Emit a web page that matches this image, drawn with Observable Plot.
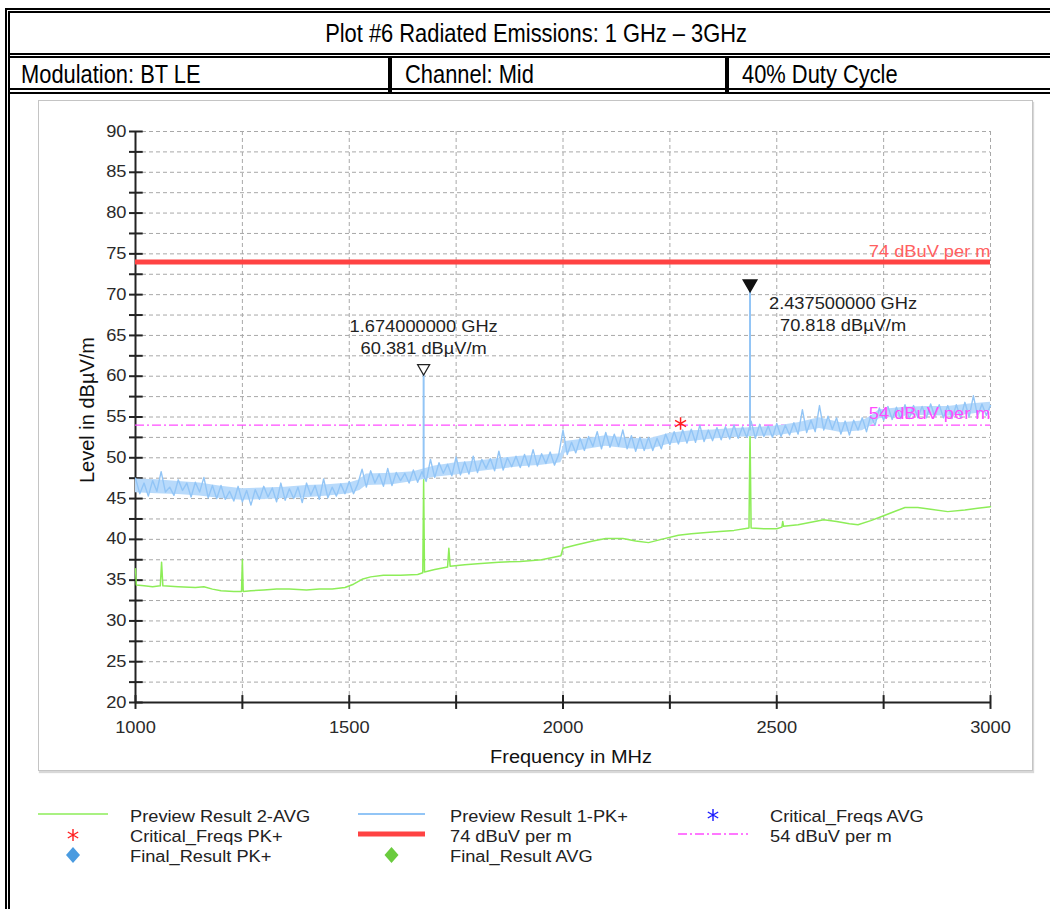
<!DOCTYPE html>
<html>
<head>
<meta charset="utf-8">
<script src="https://cdn.jsdelivr.net/npm/d3@7"></script>
<script src="https://cdn.jsdelivr.net/npm/@observablehq/plot@0.6"></script>
<style>
  html, body { margin: 0; padding: 0; background: #fff; }
  body { width: 1050px; height: 909px; position: relative; overflow: hidden; font-family: "Liberation Sans", Arial, sans-serif; }
  .b { position: absolute; background: #000; }
  .hdr { position: absolute; font-family: "Liberation Sans", Arial, sans-serif; font-size: 25px; line-height: 25px; color: #000; white-space: nowrap; }
  .hdr span { display: inline-block; transform: scaleX(0.875); }
  #panel { position: absolute; left: 38px; top: 100px; width: 993px; height: 669px; border: 1px solid #c4c4c4; box-shadow: 1px 2px 1px #d8d8d8; background: #fff; }
  #chart { position: absolute; left: 38px; top: 100px; }
  .lg { position: absolute; font-size: 16px; line-height: 16px; color: #222; white-space: nowrap; transform: scaleX(1.14); transform-origin: 0 50%; }
  .sw { position: absolute; }
</style>
</head>
<body>
<!-- table borders -->
<div class="b" style="left:5px;top:8px;width:1045px;height:2px"></div>
<div class="b" style="left:8px;top:11px;width:1042px;height:2px"></div>
<div class="b" style="left:5px;top:8px;width:2px;height:901px"></div>
<div class="b" style="left:8px;top:11px;width:2px;height:898px"></div>
<div class="b" style="left:8px;top:53px;width:1042px;height:2px"></div>
<div class="b" style="left:8px;top:56px;width:1042px;height:2px"></div>
<div class="b" style="left:8px;top:88px;width:1042px;height:2px"></div>
<div class="b" style="left:8px;top:92px;width:1042px;height:2px"></div>
<div class="b" style="left:388px;top:56px;width:4px;height:36px"></div>
<div class="b" style="left:725px;top:56px;width:4px;height:36px"></div>

<div class="hdr" style="left:0;width:1072px;top:21px;text-align:center"><span id="title" style="transform-origin:50% 50%"></span></div>
<div class="hdr" style="left:21px;top:62px"><span id="h1" style="transform-origin:0 50%"></span></div>
<div class="hdr" style="left:405px;top:62px"><span id="h2" style="transform-origin:0 50%"></span></div>
<div class="hdr" style="left:742px;top:62px"><span id="h3" style="transform-origin:0 50%"></span></div>

<div id="panel"></div>
<div id="chart"></div>
<div id="legend"></div>

<script>
// ---------- header texts ----------
const titleText = "Plot #6 Radiated Emissions: 1 GHz \u2013 3GHz";
const headerCells = ["Modulation: BT LE", "Channel: Mid", "40% Duty Cycle"];

// ---------- axes ----------
const xDomain = [1000, 3000];
const yDomain = [20, 90];
const xLabelTicks = [1000, 1500, 2000, 2500, 3000];
const xMinorTicks = [1000, 1250, 1500, 1750, 2000, 2250, 2500, 2750, 3000];
const yLabelTicks = [20, 25, 30, 35, 40, 45, 50, 55, 60, 65, 70, 75, 80, 85, 90];
const yMinorTicks = [20, 22.5, 25, 27.5, 30, 32.5, 35, 37.5, 40, 42.5, 45, 47.5, 50, 52.5, 55, 57.5, 60, 62.5, 65, 67.5, 70, 72.5, 75, 77.5, 80, 82.5, 85, 87.5, 90];
const xGrid = [1250, 1500, 1750, 2000, 2250, 2500, 2750, 3000];
const yGrid = [22.5, 25, 27.5, 30, 32.5, 35, 37.5, 40, 42.5, 45, 47.5, 50, 52.5, 55, 57.5, 60, 62.5, 65, 67.5, 70, 72.5, 75, 77.5, 80, 82.5, 85, 87.5, 90];

// ---------- Preview Result 1-PK+ (10 MHz steps, 1000..3000 MHz) ----------
const pkLevel = [
  47.5, 45.6, 46.9, 45.3, 47.2, 45.9, 48.3, 45.8, 46.4, 45.4,
  47.3, 46.0, 46.9, 45.2, 47.0, 45.8, 47.6, 45.1, 46.6, 45.0,
  46.6, 44.9, 45.9, 44.7, 46.5, 44.6, 46.0, 44.2, 46.1, 44.9,
  46.5, 45.2, 46.3, 44.6, 46.9, 44.8, 46.2, 45.0, 46.4, 44.5,
  46.9, 45.4, 46.6, 44.9, 47.4, 45.1, 46.4, 45.3, 46.8, 45.6,
  47.1, 45.6, 46.8, 48.6, 46.4, 48.4, 46.9, 48.0, 46.5, 48.7,
  46.6, 48.2, 47.2, 48.1, 46.9, 48.5, 47.0, 48.3, 47.1, 49.8,
  47.6, 49.4, 48.1, 49.2, 47.8, 50.1, 47.9, 49.5, 48.0, 50.2,
  48.2, 49.8, 48.7, 49.9, 48.4, 50.8, 48.5, 50.0, 48.9, 50.2,
  48.8, 50.4, 48.9, 51.0, 49.0, 50.5, 49.3, 50.7, 49.1, 50.4,
  53.4, 50.4, 51.9, 50.6, 52.4, 50.9, 52.6, 51.4, 53.2, 51.1,
  53.1, 51.3, 52.9, 51.4, 53.4, 51.1, 52.7, 50.8, 52.5, 50.9,
  52.5, 50.9, 52.4, 51.1, 52.9, 51.6, 53.2, 51.7, 53.4, 51.8,
  53.5, 51.9, 54.0, 52.0, 53.4, 52.1, 53.7, 52.2, 53.8, 52.3,
  54.0, 52.4, 53.8, 52.5, 54.5, 52.4, 54.1, 52.6, 53.9, 52.5,
  54.2, 52.6, 54.0, 52.8, 54.3, 52.9, 55.9, 53.1, 54.6, 53.2,
  56.4, 53.4, 55.1, 53.5, 54.9, 52.9, 54.5, 52.8, 54.6, 53.4,
  54.9, 53.2, 55.2, 54.0, 56.1, 54.6, 56.3, 54.7, 56.2, 54.8,
  56.5, 54.8, 56.4, 54.9, 56.3, 54.9, 56.6, 55.0, 56.5, 54.9,
  56.4, 54.8, 56.5, 54.9, 56.8, 55.0, 57.6, 55.1, 56.6, 55.2,
  56.4
];
const pkFreq = d3.range(1000, 3001, 10);

// core of the PK+ noise band
const bandFreq = [1000, 1050, 1100, 1150, 1200, 1250, 1300, 1350, 1400, 1450, 1500, 1525, 1540, 1600, 1650, 1700, 1750, 1800, 1850, 1900, 1950, 1995, 2005, 2050, 2100, 2150, 2200, 2250, 2300, 2350, 2400, 2450, 2500, 2550, 2600, 2650, 2700, 2720, 2740, 2800, 2850, 2900, 2950, 3000];
const bandLow  = [45.7, 45.6, 45.5, 45.3, 45.0, 44.8, 44.9, 45.0, 45.1, 45.3, 45.6, 46.0, 46.6, 46.7, 47.1, 47.6, 47.9, 48.3, 48.6, 48.9, 49.1, 49.4, 50.6, 51.0, 51.4, 51.1, 51.0, 51.7, 52.0, 52.3, 52.5, 52.6, 52.7, 53.1, 53.6, 53.1, 53.3, 53.9, 54.8, 55.1, 55.2, 55.1, 55.3, 55.7];
const bandHigh = [47.4, 47.3, 47.1, 46.9, 46.5, 46.2, 46.3, 46.4, 46.6, 46.7, 46.9, 47.3, 48.0, 48.1, 48.3, 49.0, 49.4, 49.6, 49.9, 50.2, 50.3, 50.5, 52.0, 52.3, 52.7, 52.4, 52.3, 53.0, 53.3, 53.4, 53.6, 53.7, 53.9, 54.3, 54.9, 54.3, 54.5, 55.1, 55.9, 56.2, 56.3, 56.3, 56.6, 56.8];

// ---------- Preview Result 2-AVG ----------
const avgFreq = [1000, 1002, 1020, 1040, 1058, 1061, 1064, 1100, 1140, 1160, 1180, 1200, 1230, 1248, 1250, 1252, 1270, 1300, 1330, 1360, 1400, 1430, 1460, 1490, 1510, 1530, 1550, 1580, 1620, 1660, 1672, 1674, 1676, 1700, 1730, 1733, 1736, 1770, 1800, 1850, 1900, 1950, 1995, 2000, 2030, 2070, 2100, 2140, 2170, 2200, 2230, 2270, 2300, 2350, 2400, 2435, 2437.5, 2440, 2470, 2500, 2512, 2514, 2516, 2550, 2580, 2610, 2640, 2670, 2690, 2720, 2750, 2780, 2800, 2830, 2860, 2900, 2940, 2970, 3000];
const avgLevel = [36.4, 34.4, 34.3, 34.2, 34.3, 37.2, 34.3, 34.2, 34.1, 34.2, 33.9, 33.7, 33.6, 33.6, 37.5, 33.6, 33.7, 33.8, 33.9, 33.9, 33.8, 33.9, 33.9, 34.1, 34.5, 35.1, 35.4, 35.6, 35.6, 35.7, 35.9, 47.3, 36.0, 36.3, 36.6, 38.9, 36.7, 36.9, 37.0, 37.2, 37.3, 37.5, 38.0, 38.9, 39.3, 39.8, 40.1, 40.1, 39.8, 39.6, 40.0, 40.5, 40.7, 40.9, 41.1, 41.4, 53.3, 41.4, 41.3, 41.3, 41.5, 42.2, 41.6, 41.8, 42.1, 42.4, 42.2, 41.9, 41.8, 42.3, 42.9, 43.5, 43.9, 43.9, 43.7, 43.4, 43.6, 43.8, 44.0];

// ---------- markers / peaks ----------
const peakFreq = [1674, 2437.5];
const peakBase = [47.6, 53.3];
const peakLevel = [60.381, 70.818];
const peakLabel = ["1.674000000 GHz\n60.381 dB\u00b5V/m", "2.437500000 GHz\n70.818 dB\u00b5V/m"];
const critPkFreq = [2275];
const critPkLevel = [54.2];

// ---------- limits ----------
const limitPk = 74;
const limitAvg = 54;
const limitPkLabel = "74 dBuV per m";
const limitAvgLabel = "54 dBuV per m";

// ---------- legend ----------
const legendLabels = ["Preview Result 2-AVG", "Critical_Freqs PK+", "Final_Result PK+", "Preview Result 1-PK+", "74 dBuV per m", "Final_Result AVG", "Critical_Freqs AVG", "54 dBuV per m"];

const C = { pk: "#92c5f6", band: "#b8dafb", avg: "#8ded58", red: "#ff4343", redText: "#ff6060", mag: "#ff4cff", grid: "#a8a8a8", axis: "#222" };

// header
document.getElementById("title").textContent = titleText;
["h1", "h2", "h3"].forEach((id, i) => document.getElementById(id).textContent = headerCells[i]);

const pk = pkFreq.map((f, i) => ({ f, v: pkLevel[i] }));
const band = bandFreq.map((f, i) => ({ f, lo: bandLow[i], hi: bandHigh[i] }));
const avg = avgFreq.map((f, i) => ({ f, v: avgLevel[i] }));
const peaks = peakFreq.map((f, i) => ({ f, base: peakBase[i], v: peakLevel[i], label: peakLabel[i] }));
const crit = critPkFreq.map((f, i) => ({ f, v: critPkLevel[i] }));

const chart = Plot.plot({
  width: 995,
  height: 671,
  marginLeft: 97,
  marginRight: 43,
  marginTop: 31,
  marginBottom: 69,
  x: { domain: xDomain },
  y: { domain: yDomain },
  style: { fontFamily: "'Liberation Sans', Arial, sans-serif", fontSize: "16px", color: "#2a2a2a", background: "transparent", overflow: "visible" },
  marks: [
    Plot.gridY(yGrid, { stroke: C.grid, strokeOpacity: 1, strokeDasharray: "4,3" }),
    Plot.gridX(xGrid, { stroke: C.grid, strokeOpacity: 1, strokeDasharray: "4,3" }),
    Plot.axisX({ ticks: xLabelTicks, tickFormat: d => String(d), tickSize: 0, tickPadding: 19, label: null, fontSize: 16 }),
    Plot.axisY({ ticks: yLabelTicks, tickFormat: d => String(d), tickSize: 0, tickPadding: 9, label: null, fontSize: 16 }),
    // tick marks crossing the axis lines
    Plot.ruleY(yMinorTicks, { x1: xDomain[0] - 14, x2: xDomain[0] + 18, stroke: C.axis, strokeWidth: 2 }),
    Plot.ruleX(xMinorTicks, { y1: yDomain[0] - 0.85, y2: yDomain[0] + 0.85, stroke: C.axis, strokeWidth: 2 }),
    Plot.ruleX([xDomain[0]], { stroke: C.axis, strokeWidth: 2 }),
    Plot.ruleY([yDomain[0]], { stroke: C.axis, strokeWidth: 2 }),
    // limits
    Plot.ruleY([limitAvg], { stroke: C.mag, strokeWidth: 1.3, strokeDasharray: "9,3,2,3" }),
    // traces
    Plot.line(avg, { x: "f", y: "v", stroke: C.avg, strokeWidth: 1.5 }),
    Plot.areaY(band, { x: "f", y1: "lo", y2: "hi", fill: C.band, fillOpacity: 1 }),
    Plot.line(pk, { x: "f", y: "v", stroke: C.pk, strokeWidth: 1.4 }),
    Plot.ruleX(peaks, { x: "f", y1: "base", y2: "v", stroke: C.pk, strokeWidth: 2 }),
    Plot.ruleY([limitPk], { stroke: C.red, strokeWidth: 5 }),
    Plot.text([limitPkLabel], { x: xDomain[1], y: limitPk, text: d => d, textAnchor: "end", dy: -10, fill: C.redText, fontSize: 16 }),
    Plot.text([limitAvgLabel], { x: xDomain[1], y: limitAvg, text: d => d, textAnchor: "end", dy: -11, fill: C.mag, fontSize: 16 }),
    // markers
    Plot.dot([peaks[0]], { x: "f", y: "v", symbol: "triangle", rotate: 180, r: 4.5, stroke: "#222", strokeWidth: 1.2, fill: "white", dy: -5 }),
    Plot.dot([peaks[1]], { x: "f", y: "v", symbol: "triangle", rotate: 180, r: 5, fill: "#111", stroke: "#111", dy: -4 }),
    Plot.text([peaks[0]], { x: "f", y: "v", text: "label", lineHeight: 1.4, dy: -37, fill: "#222", fontSize: 16 }),
    Plot.text([peaks[1]], { x: "f", y: "v", text: "label", lineHeight: 1.4, dy: 25, dx: 93, fill: "#222", fontSize: 16 }),
    Plot.dot(crit, { x: "f", y: "v", symbol: "asterisk", r: 6, stroke: "#ff2020", strokeWidth: 1.5 }),
    // axis titles
    Plot.text(["Level in dB\u00b5V/m"], { frameAnchor: "left", textAnchor: "middle", text: d => d, rotate: -90, dx: -48, dy: -7, fill: "#111", fontSize: 20 }),
    Plot.text(["Frequency in MHz"], { frameAnchor: "bottom", textAnchor: "middle", text: d => d, dy: 60, dx: 8, fill: "#111", fontSize: 17.5 })
  ]
});
document.getElementById("chart").appendChild(chart);

// The reference chart's text is set wide: stretch the glyphs of every horizontal label.
const STRETCH = 1.14;
chart.querySelectorAll("text").forEach(t => {
  if ((t.getAttribute("transform") || "").includes("rotate")) return;
  const spans = t.querySelectorAll("tspan");
  const targets = spans.length ? Array.from(spans) : [t];
  targets.forEach(el => {
    const len = el.getComputedTextLength();
    if (len > 0) {
      el.setAttribute("textLength", (len * STRETCH).toFixed(1));
      el.setAttribute("lengthAdjust", "spacingAndGlyphs");
    }
  });
});

// ---------- legend (HTML) ----------
const leg = document.getElementById("legend");
const rowsY = [817, 837, 857];
const textX = [130, 450, 770];
const items = [
  { col: 0, row: 0, kind: "line", color: C.avg, w: 1.5 },
  { col: 0, row: 1, kind: "star", color: "#ff2020" },
  { col: 0, row: 2, kind: "diamond", color: "#4a9be0" },
  { col: 1, row: 0, kind: "line", color: C.pk, w: 2 },
  { col: 1, row: 1, kind: "line", color: C.red, w: 5 },
  { col: 1, row: 2, kind: "diamond", color: "#6acb3e" },
  { col: 2, row: 0, kind: "star", color: "#1a1aff" },
  { col: 2, row: 1, kind: "dash", color: C.mag, w: 1.3 }
];
const swatchX = [[38, 108], [358, 425], [678, 748]];
items.forEach((it, i) => {
  const y = rowsY[it.row];
  const t = document.createElement("div");
  t.className = "lg";
  t.style.left = textX[it.col] + "px";
  t.style.top = (y - 8) + "px";
  t.textContent = legendLabels[i];
  leg.appendChild(t);
  const [x0, x1] = swatchX[it.col];
  const svgNS = "http://www.w3.org/2000/svg";
  const s = document.createElementNS(svgNS, "svg");
  s.setAttribute("class", "sw");
  s.setAttribute("width", x1 - x0 + 20);
  s.setAttribute("height", 20);
  s.style.left = (x0 - 10) + "px";
  s.style.top = (y - 12) + "px";
  const cx = (x1 - x0) / 2 + 10, cy = 10;
  let el;
  if (it.kind === "line" || it.kind === "dash") {
    el = document.createElementNS(svgNS, "line");
    el.setAttribute("x1", 10); el.setAttribute("x2", x1 - x0 + 10);
    el.setAttribute("y1", cy - 1); el.setAttribute("y2", cy - 1);
    el.setAttribute("stroke", it.color); el.setAttribute("stroke-width", it.w);
    if (it.kind === "dash") el.setAttribute("stroke-dasharray", "9,3,2,3");
  } else if (it.kind === "star") {
    el = document.createElementNS(svgNS, "path");
    const r = 6, a = r * 0.866;
    el.setAttribute("d", `M${cx},${cy - r}V${cy + r}M${cx - a},${cy - r / 2}L${cx + a},${cy + r / 2}M${cx - a},${cy + r / 2}L${cx + a},${cy - r / 2}`);
    el.setAttribute("stroke", it.color); el.setAttribute("stroke-width", 1.4); el.setAttribute("fill", "none");
  } else {
    el = document.createElementNS(svgNS, "path");
    el.setAttribute("d", `M${cx},${cy - 8}L${cx + 7},${cy}L${cx},${cy + 8}L${cx - 7},${cy}Z`);
    el.setAttribute("fill", it.color);
  }
  s.appendChild(el);
  leg.appendChild(s);
});
</script>
</body>
</html>
